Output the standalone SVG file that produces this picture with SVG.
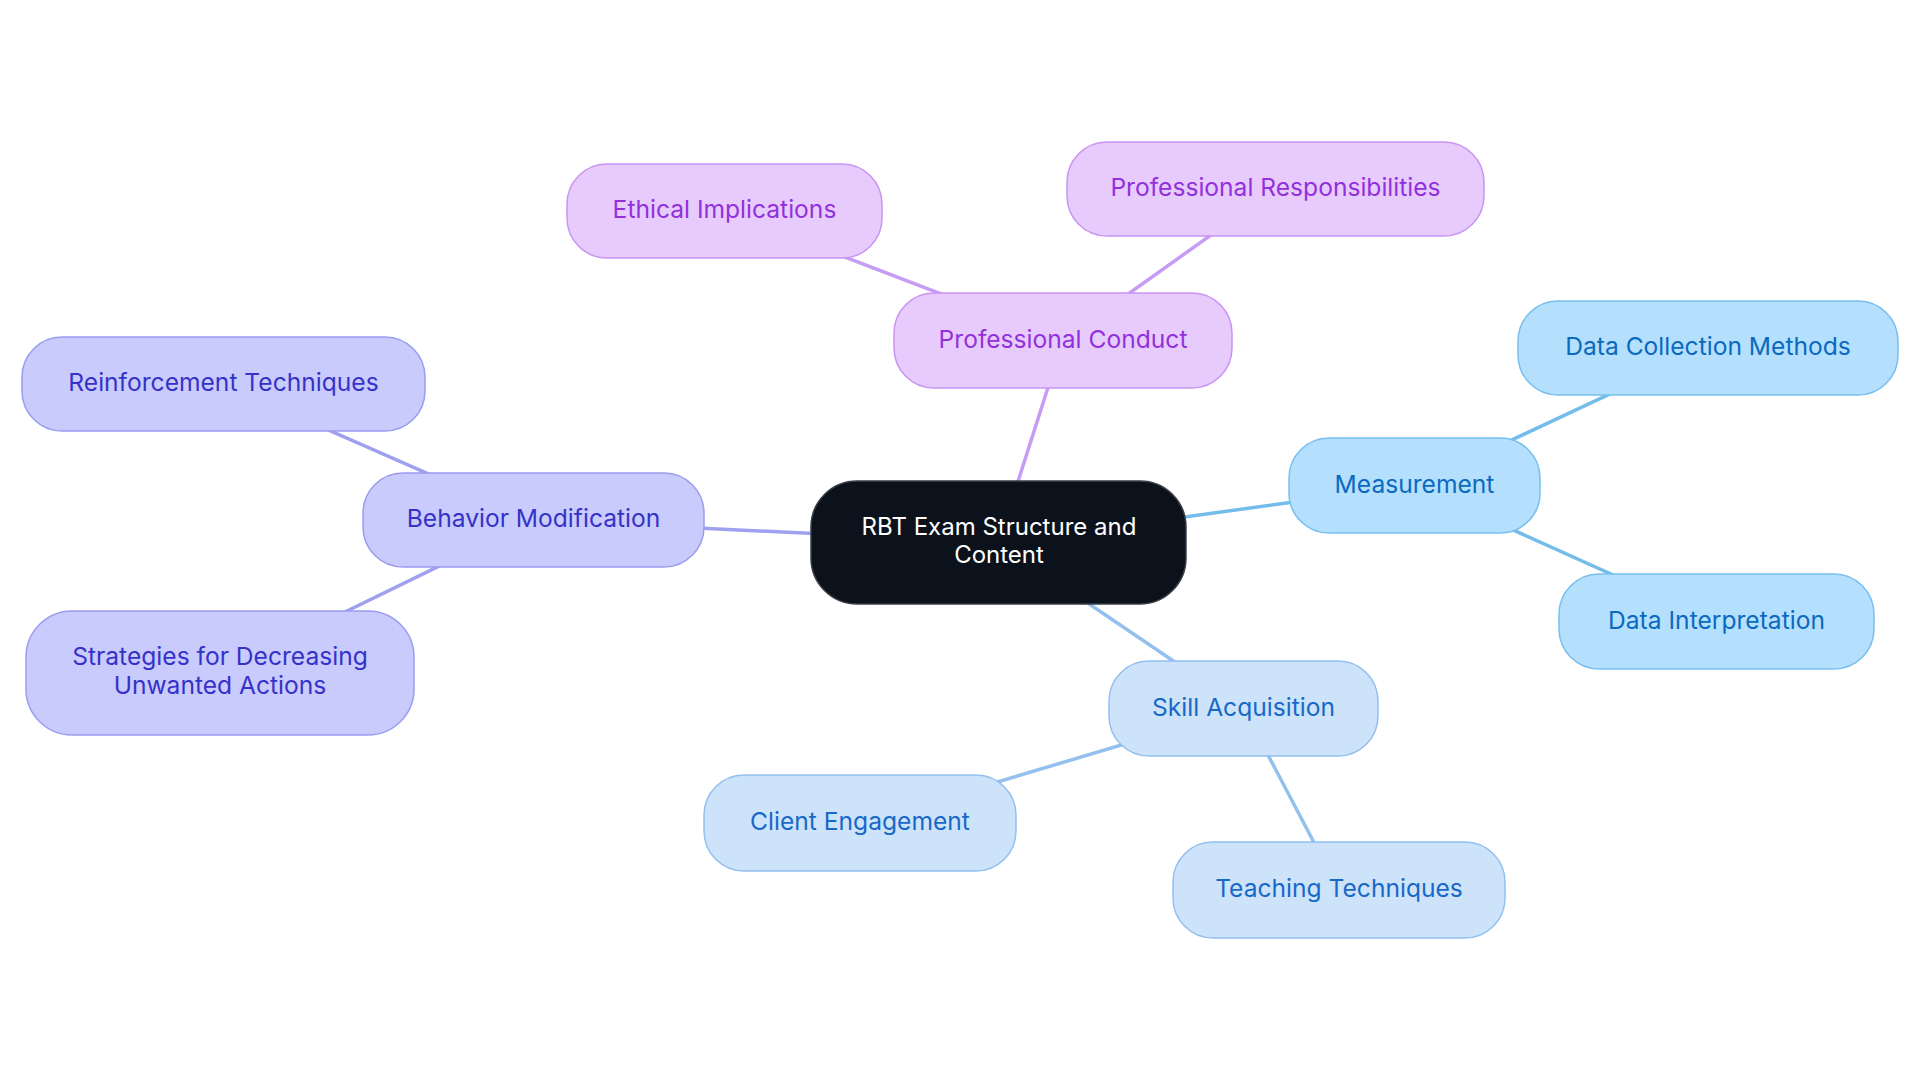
<svg xmlns="http://www.w3.org/2000/svg" width="1920" height="1083" viewBox="0 0 1920 1083">
<style>
  text { font-family: Inter, "Noto Sans", "Liberation Sans", sans-serif; font-size: 24.6px; text-anchor: middle; }
  .edge { stroke-width: 3.5; fill: none; stroke-linecap: round; }
  .root rect { fill: #0c121b; stroke: #3a3f47; stroke-width: 1.5; }
  .root text { fill: #ffffff; font-size: 24px; }
  .pur rect { fill: #e8cbfd; stroke: #c994f2; stroke-width: 1.5; }
  .pur text { fill: #9231db; }
  .ind rect { fill: #c9cbfc; stroke: #9a9cf0; stroke-width: 1.5; }
  .ind text { fill: #3532c9; }
  .sky rect { fill: #b4e0fd; stroke: #78bff0; stroke-width: 1.5; }
  .sky text { fill: #0b69c0; }
  .blu rect { fill: #cde3fa; stroke: #93c0f0; stroke-width: 1.5; }
  .blu text { fill: #1868c8; }
  .e-pur { stroke: #c69cf4; }
  .e-ind { stroke: #9fa1f0; }
  .e-sky { stroke: #74bceb; }
  .e-blu { stroke: #94c0ee; }
</style>
<rect width="1920" height="1083" fill="#ffffff"/>
<g id="connectors">
  <line class="edge e-pur" x1="998.5" y1="542.5" x2="1063" y2="340.5"/>
  <line class="edge e-pur" x1="1063" y1="340.5" x2="724.5" y2="211"/>
  <line class="edge e-pur" x1="1063" y1="340.5" x2="1275.5" y2="189"/>
  <line class="edge e-ind" x1="998.5" y1="542.5" x2="533.5" y2="520"/>
  <line class="edge e-ind" x1="533.5" y1="520" x2="223.5" y2="384"/>
  <line class="edge e-ind" x1="533.5" y1="520" x2="220" y2="673"/>
  <line class="edge e-sky" x1="998.5" y1="542.5" x2="1414.5" y2="485.5"/>
  <line class="edge e-sky" x1="1414.5" y1="485.5" x2="1708" y2="348"/>
  <line class="edge e-sky" x1="1414.5" y1="485.5" x2="1716.5" y2="621.5"/>
  <line class="edge e-blu" x1="998.5" y1="542.5" x2="1243.5" y2="708.5"/>
  <line class="edge e-blu" x1="1243.5" y1="708.5" x2="860" y2="823"/>
  <line class="edge e-blu" x1="1243.5" y1="708.5" x2="1339" y2="890"/>
</g>
<g id="root" class="root">
  <rect x="811" y="481" width="375" height="123" rx="46"/>
  <text x="999" y="535">RBT Exam Structure and</text>
  <text x="999" y="563">Content</text>
</g>
<g id="professional-conduct" class="pur">
  <rect x="894" y="293" width="338" height="95" rx="40"/>
  <text x="1063" y="347.5">Professional Conduct</text>
</g>
<g id="professional-responsibilities" class="pur">
  <rect x="1067" y="142" width="417" height="94" rx="40"/>
  <text x="1275.5" y="196">Professional Responsibilities</text>
</g>
<g id="ethical-implications" class="pur">
  <rect x="567" y="164" width="315" height="94" rx="40"/>
  <text x="724.5" y="218">Ethical Implications</text>
</g>
<g id="behavior-modification" class="ind">
  <rect x="363" y="473" width="341" height="94" rx="40"/>
  <text x="533.5" y="527">Behavior Modification</text>
</g>
<g id="reinforcement-techniques" class="ind">
  <rect x="22" y="337" width="403" height="94" rx="40"/>
  <text x="223.5" y="391">Reinforcement Techniques</text>
</g>
<g id="strategies" class="ind">
  <rect x="26" y="611" width="388" height="124" rx="46"/>
  <text x="220" y="665">Strategies for Decreasing</text>
  <text x="220" y="694">Unwanted Actions</text>
</g>
<g id="measurement" class="sky">
  <rect x="1289" y="438" width="251" height="95" rx="40"/>
  <text x="1414.5" y="492.5">Measurement</text>
</g>
<g id="data-collection-methods" class="sky">
  <rect x="1518" y="301" width="380" height="94" rx="40"/>
  <text x="1708" y="355">Data Collection Methods</text>
</g>
<g id="data-interpretation" class="sky">
  <rect x="1559" y="574" width="315" height="95" rx="40"/>
  <text x="1716.5" y="628.5">Data Interpretation</text>
</g>
<g id="skill-acquisition" class="blu">
  <rect x="1109" y="661" width="269" height="95" rx="40"/>
  <text x="1243.5" y="715.5">Skill Acquisition</text>
</g>
<g id="client-engagement" class="blu">
  <rect x="704" y="775" width="312" height="96" rx="40"/>
  <text x="860" y="830">Client Engagement</text>
</g>
<g id="teaching-techniques" class="blu">
  <rect x="1173" y="842" width="332" height="96" rx="40"/>
  <text x="1339" y="897">Teaching Techniques</text>
</g>
</svg>
